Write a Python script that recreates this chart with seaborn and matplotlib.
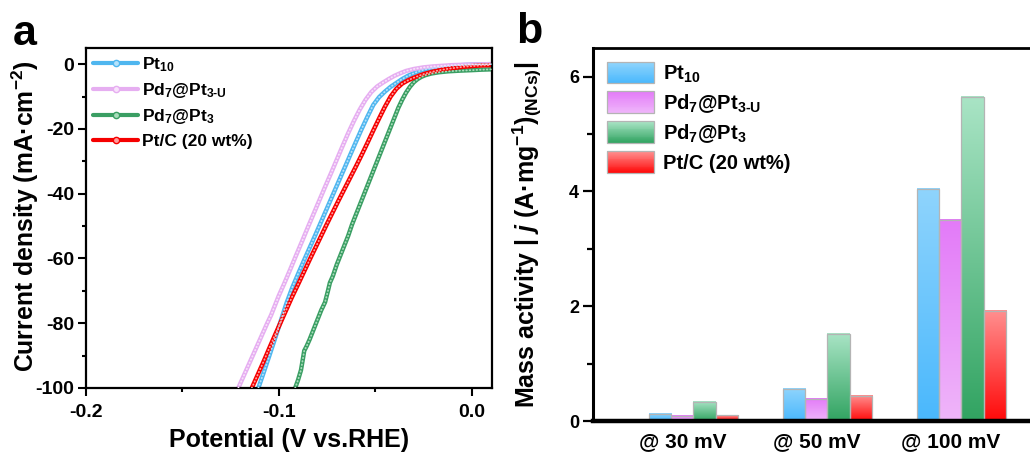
import numpy as np
import pandas as pd
import matplotlib
matplotlib.use("Agg")
import matplotlib.pyplot as plt
import matplotlib.transforms as mtransforms
from matplotlib.lines import Line2D
from matplotlib.patches import Rectangle
from matplotlib.legend_handler import HandlerBase
from matplotlib.colors import to_rgb
import seaborn as sns

# ---------------- data ----------------
samples = ["Pt10", "Pd7@Pt3-U", "Pd7@Pt3", "Pt/C (20 wt%)"]
labels = [r"Pt$_{10}$", r"Pd$_{7}$@Pt$_{3\text{-}\mathrm{U}}$", r"Pd$_{7}$@Pt$_{3}$", "Pt/C (20 wt%)"]

# LSV curves (potential V vs RHE, current density mA cm-2)
pt10_v = [-0.1106, -0.1080, -0.1050, -0.1020, -0.0990, -0.0960, -0.0930, -0.0900, -0.0870, -0.0840,
          -0.0810, -0.0780, -0.0750, -0.0720, -0.0690, -0.0660, -0.0630, -0.0600, -0.0570, -0.0540,
          -0.0510, -0.0480, -0.0450, -0.0420, -0.0390, -0.0360, -0.0330, -0.0300, -0.0270, -0.0240,
          -0.0200, -0.0150, -0.0100, -0.0050, 0.0000, 0.0050, 0.0100]
pt10_j = [-100, -95.5, -90.2, -84.8, -79.3, -73.8, -69.0, -64.8, -60.7, -56.7,
          -52.7, -48.6, -44.5, -40.4, -36.3, -32.2, -28.1, -24.0, -20.0, -16.2,
          -12.6, -10.2, -8.5, -7.0, -5.8, -4.6, -3.6, -2.8, -2.1, -1.6,
          -1.2, -0.8, -0.5, -0.3, -0.15, -0.05, 0.0]

pd7u_v = [-0.1210, -0.1180, -0.1150, -0.1120, -0.1090, -0.1060, -0.1040, -0.1020, -0.1000, -0.0970,
          -0.0940, -0.0910, -0.0880, -0.0850, -0.0820, -0.0790, -0.0760, -0.0730, -0.0700, -0.0670,
          -0.0640, -0.0610, -0.0580, -0.0550, -0.0520, -0.0490, -0.0460, -0.0430, -0.0400, -0.0370,
          -0.0340, -0.0300, -0.0250, -0.0200, -0.0150, -0.0100, -0.0050, 0.0000, 0.0100]
pd7u_j = [-100, -96.0, -92.0, -88.0, -84.0, -80.0, -77.5, -74.5, -71.5, -67.5,
          -63.3, -59.0, -54.8, -50.5, -46.3, -42.1, -37.9, -33.8, -29.6, -25.4,
          -21.3, -17.5, -14.0, -11.0, -8.6, -6.9, -5.7, -4.6, -3.6, -2.8,
          -2.1, -1.5, -1.0, -0.7, -0.5, -0.3, -0.2, -0.1, 0.0]

pd7_v = [-0.0915, -0.0900, -0.0885, -0.0875, -0.0868, -0.0855, -0.0840, -0.0820, -0.0800, -0.0780,
         -0.0760, -0.0745, -0.0735, -0.0720, -0.0700, -0.0680, -0.0660, -0.0640, -0.0620, -0.0600,
         -0.0580, -0.0560, -0.0540, -0.0520, -0.0500, -0.0480, -0.0460, -0.0440, -0.0420, -0.0400,
         -0.0380, -0.0360, -0.0340, -0.0320, -0.0300, -0.0280, -0.0260, -0.0240, -0.0210, -0.0170,
         -0.0120, -0.0060, 0.0000, 0.0050, 0.0100]
pd7_j = [-100, -97.5, -94.5, -91.0, -88.5, -87.0, -85.0, -82.0, -79.0, -76.0,
         -73.5, -70.0, -67.5, -65.5, -62.0, -59.0, -56.0, -53.0, -49.5, -46.5,
         -43.5, -40.5, -37.5, -34.5, -31.5, -28.5, -25.5, -22.5, -19.5, -16.5,
         -13.5, -11.0, -8.8, -7.0, -5.6, -4.6, -3.9, -3.4, -2.9, -2.5,
         -2.2, -2.0, -1.85, -1.7, -1.6]

ptc_v = [-0.1140, -0.1110, -0.1080, -0.1050, -0.1020, -0.0990, -0.0960, -0.0933, -0.0900, -0.0870,
         -0.0840, -0.0810, -0.0780, -0.0750, -0.0720, -0.0690, -0.0660, -0.0630, -0.0600, -0.0570,
         -0.0540, -0.0510, -0.0480, -0.0450, -0.0420, -0.0390, -0.0360, -0.0330, -0.0300, -0.0270,
         -0.0240, -0.0200, -0.0160, -0.0120, -0.0080, -0.0040, 0.0000, 0.0050, 0.0100]
ptc_j = [-100, -96.0, -92.0, -87.8, -83.7, -79.7, -75.7, -72.1, -68.0, -64.2,
         -60.4, -56.7, -53.0, -49.3, -45.7, -42.1, -38.6, -35.1, -31.6, -28.0,
         -24.3, -20.5, -16.8, -13.2, -10.0, -7.6, -6.0, -5.0, -4.2, -3.5,
         -2.9, -2.3, -1.8, -1.4, -1.1, -0.8, -0.6, -0.4, -0.3]

# Mass activity
conditions = ["@ 30 mV", "@ 50 mV", "@ 100 mV"]
ma_pt10 = [0.13, 0.56, 4.05]
ma_pd7u = [0.09, 0.39, 3.51]
ma_pd7 = [0.34, 1.52, 5.65]
ma_ptc = [0.10, 0.44, 1.92]

# ---------------- style ----------------
sns.set_style("ticks")
plt.rcParams["font.family"] = ["Liberation Sans", "DejaVu Sans"]
plt.rcParams["font.weight"] = "bold"
plt.rcParams["axes.labelweight"] = "bold"
plt.rcParams["text.color"] = "black"
plt.rcParams["axes.labelcolor"] = "black"
plt.rcParams["xtick.color"] = "black"
plt.rcParams["ytick.color"] = "black"
plt.rcParams["mathtext.fontset"] = "custom"
plt.rcParams["mathtext.rm"] = "Liberation Sans:bold"
plt.rcParams["mathtext.it"] = "Liberation Sans:bold:italic"
plt.rcParams["mathtext.bf"] = "Liberation Sans:bold"
plt.rcParams["mathtext.sf"] = "Liberation Sans:bold"

line_colors = ["#4fb6ef", "#e6aef1", "#3a9e63", "#f50000"]
bead_colors = ["#b5e2fb", "#f8e2fb", "#a8dcbb", "#ff9d9d"]
grad = {  # top, bottom
    samples[0]: ("#8fd4fc", "#4ab8fd"),
    samples[1]: ("#e37bf8", "#efb5fa"),
    samples[2]: ("#a9e4c5", "#32a462"),
    samples[3]: ("#ff8f8f", "#ff0a0a"),
}

fig = plt.figure(figsize=(10.3, 4.53), dpi=100)
ax1 = fig.add_axes([0.0835, 0.1435, 0.394, 0.7506])
ax2 = fig.add_axes([0.5757, 0.0706, 0.4553, 0.8234])

# ---------------- panel a ----------------
curves = [(pt10_v, pt10_j), (pd7u_v, pd7u_j), (pd7_v, pd7_j), (ptc_v, ptc_j)]
df = pd.concat([pd.DataFrame({"V": v, "j": j, "sample": s}) for (v, j), s in zip(curves, samples)],
               ignore_index=True)
sns.lineplot(data=df, x="V", y="j", hue="sample", hue_order=samples, palette=line_colors,
             sort=False, estimator=None, lw=3.2, legend=False, ax=ax1)
for (v, j), bc in zip(curves, bead_colors):
    ax1.plot(v, j, color=bc, lw=1.3, ls=(0, (0.3, 1.6)), dash_capstyle="round", zorder=3)

ax1.set_xlim(-0.2, 0.0105)
ax1.set_ylim(-100, 5)
ax1.set_xticks([-0.2, -0.1, 0.0])
ax1.set_xticklabels(["-0.2", "-0.1", "0.0"])
ax1.set_xticks([-0.15, -0.05], minor=True)
ax1.set_yticks([0, -20, -40, -60, -80, -100])
ax1.set_yticklabels(["0", "-20", "-40", "-60", "-80", "-100"])
ax1.set_yticks([-10, -30, -50, -70, -90], minor=True)
ax1.tick_params(axis="both", which="major", direction="out", length=5.5, width=1.5,
                labelsize=14, pad=3)
ax1.tick_params(axis="x", which="major", pad=6)
ax1.tick_params(axis="both", which="minor", direction="out", length=3, width=1.5)
for sp in ax1.spines.values():
    sp.set_linewidth(1.6)
    sp.set_color("black")
ax1.set_xlabel("Potential (V vs.RHE)", fontsize=18, fontweight="bold")
ax1.set_ylabel(r"Current density (mA·cm$^{-2}$)", fontsize=17.8, fontweight="bold")
ax1.xaxis.set_label_coords(0.5, -0.117)
ax1.yaxis.set_label_coords(-0.11, 0.505)

handles_a = [Line2D([], [], color=c, lw=3, marker="o", ms=4.5, mfc=b, mec=c, mew=1)
             for c, b in zip(line_colors, bead_colors)]
ax1.legend(handles_a, labels, loc="upper left", frameon=False,
           handlelength=2.6, handletextpad=0.25, labelspacing=0.42, borderaxespad=0.2,
           borderpad=0.2, prop={"weight": "bold", "size": 12.5})

# ---------------- panel b ----------------
vals = [ma_pt10, ma_pd7u, ma_pd7, ma_ptc]
dfb = pd.concat([pd.DataFrame({"cond": conditions, "val": v, "sample": s}) for v, s in zip(vals, samples)],
                ignore_index=True)
sns.barplot(data=dfb, x="cond", y="val", hue="sample", hue_order=samples, order=conditions,
            palette=[grad[s][1] for s in samples], width=0.67, saturation=1, legend=False,
            edgecolor="#b4b4b4", linewidth=0.9, ax=ax2)


def gradient_img(top, bottom, n=64):
    t = np.linspace(0, 1, n)[:, None]
    c = (1 - t) * np.array(to_rgb(top)) + t * np.array(to_rgb(bottom))
    return c[:, None, :]


for cont, s in zip(ax2.containers, samples):
    for p in cont.patches:
        x0, y0 = p.get_x(), p.get_y()
        w, h = p.get_width(), p.get_height()
        ax2.imshow(gradient_img(*grad[s]), extent=[x0, x0 + w, y0, y0 + h], origin="upper",
                   aspect="auto", interpolation="bilinear", zorder=p.get_zorder() + 0.1)
        p.set_facecolor("none")
        p.set_zorder(p.get_zorder() + 0.2)

ax2.set_xlim(-0.75, 2.75)
ax2.set_ylim(0, 6.5)
ax2.set_yticks([0, 2, 4, 6])
ax2.set_yticklabels(["0", "2", "4", "6"])
ax2.set_yticks([1, 3, 5], minor=True)
ax2.tick_params(axis="y", which="major", direction="out", length=7, width=1.6, labelsize=13, pad=3)
ax2.tick_params(axis="y", which="minor", direction="out", length=4, width=1.6)
ax2.tick_params(axis="x", which="both", length=0, labelsize=15, pad=8)
shift = mtransforms.ScaledTranslation(-0.11, 0, fig.dpi_scale_trans)
for lab in ax2.get_xticklabels():
    lab.set_fontweight("bold")
    lab.set_transform(lab.get_transform() + shift)
for lab in ax2.get_yticklabels():
    lab.set_fontweight("bold")
ax2.spines["left"].set_linewidth(2.2)
ax2.spines["top"].set_linewidth(2.0)
ax2.spines["bottom"].set_linewidth(3.2)
ax2.spines["right"].set_linewidth(2.0)
for sp in ax2.spines.values():
    sp.set_color("black")
ax2.set_xlabel("")
ax2.set_ylabel(r"Mass activity | $j$ (A·mg$^{-1}$)$_{(\mathrm{NCs})}$|", fontsize=18, fontweight="bold")
ax2.yaxis.set_label_coords(-0.104, 0.5)


class GradHandler(HandlerBase):
    def __init__(self, top, bottom, n=24):
        super().__init__()
        self.top, self.bottom, self.n = top, bottom, n

    def create_artists(self, legend, orig_handle, xdescent, ydescent, width, height, fontsize, trans):
        arts = []
        x0, y0 = -xdescent, -ydescent
        img = gradient_img(self.top, self.bottom, self.n)[:, 0, :]
        dh = height / self.n
        for i in range(self.n):
            arts.append(Rectangle((x0, y0 + height - (i + 1) * dh), width, dh * 1.02,
                                  facecolor=img[i], edgecolor="none", transform=trans))
        arts.append(Rectangle((x0, y0), width, height, facecolor="none",
                              edgecolor="#b4b4b4", lw=0.9, transform=trans))
        return arts


handles_b = [Rectangle((0, 0), 1, 1) for _ in samples]
hmap = {h: GradHandler(*grad[s]) for h, s in zip(handles_b, samples)}
ax2.legend(handles_b, labels, handler_map=hmap, loc="upper left", frameon=False,
           prop={"weight": "bold", "size": 14.5}, handlelength=2.35, handleheight=1.25,
           handletextpad=0.45, labelspacing=0.33, borderaxespad=0.35, borderpad=0.35,
           bbox_to_anchor=(0.0, 1.0))

fig.text(0.012, 0.901, "a", fontsize=31, fontweight="bold", va="baseline", ha="left")
fig.text(0.5016, 0.905, "b", fontsize=31, fontweight="bold", va="baseline", ha="left")

fig.savefig("out.png", dpi=100)
